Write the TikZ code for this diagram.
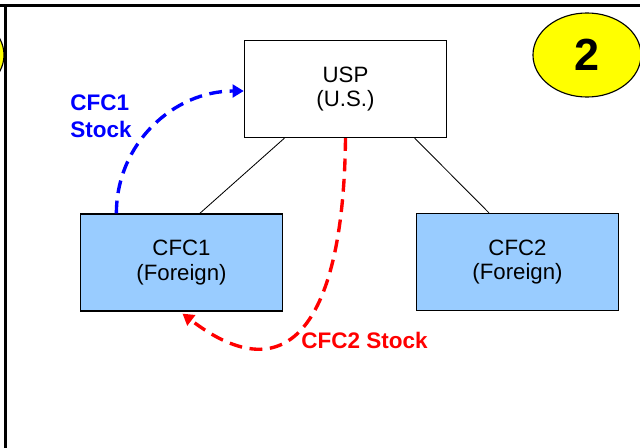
\documentclass[tikz,border=0pt]{standalone}
\usepackage{fontspec}
\setmainfont{Liberation Sans}
\usetikzlibrary{arrows.meta,calc,shapes.geometric}
\definecolor{BoxBlue}{HTML}{99CCFF}
\definecolor{BadgeYellow}{HTML}{FFFF00}
\definecolor{StockBlue}{HTML}{0000FF}
\definecolor{StockRed}{HTML}{FF0000}

\begin{document}
\begin{tikzpicture}[x=0.025cm,y=-0.025cm,
    entity/.style={draw,line width=1pt,minimum width=5.05cm,minimum height=2.42cm,
      inner sep=0pt,align=center,font=\fontsize{15.8}{17.5}\selectfont},
    cfc/.style={entity,fill=BoxBlue},
    badge/.style={draw,ellipse,fill=BadgeYellow,line width=0.8pt,minimum width=2.7cm,
      minimum height=2.1cm,inner sep=0pt,font=\bfseries\fontsize{32}{32}\selectfont},
    stocklabel/.style={anchor=west,inner sep=0pt,align=left,
      font=\bfseries\fontsize{16}{19.5}\selectfont},
    stockflow/.style={line width=2.4pt,dash pattern=on 0.32cm off 0.19cm,
      -{Triangle[length=0.28cm,width=0.32cm]}},
    owns/.style={line width=0.6pt}]
  \useasboundingbox (0,0) rectangle (640,448);
  \clip (0,0) rectangle (640,448);
  \node[badge] (one) at (-50,55) {};
  \node[badge] (two) at (587,55) {2};
  \draw[line width=2.1pt] (0,5.3) -- (640,5.3);
  \draw[line width=2.1pt] (5.5,5.3) -- (5.5,448);
  \node[entity,fill=white] (usp) at (345.5,89) {USP\\(U.S.)};
  \node[cfc] (cfc1) at (181.5,262.5) {CFC1\\(Foreign)};
  \node[cfc] (cfc2) at (517.5,262) {CFC2\\(Foreign)};
  \draw[owns] ($(usp.south west)!0.2!(usp.south east)$) -- ($(cfc1.north west)!0.59!(cfc1.north east)$);
  \draw[owns] ($(usp.south west)!0.84!(usp.south east)$) -- ($(cfc2.north west)!0.36!(cfc2.north east)$);
  \draw[stockflow,StockBlue] ($(cfc1.north west)!0.18!(cfc1.north east)$)
    .. controls +(0,-70) and +(-70,0) .. ($(usp.west)+(0,2)$);
  \draw[stockflow,StockRed] (usp.south)
    .. controls +(-2,183) and +(107,82) .. ($(cfc1.south)+(1,2)$);
  \node[stocklabel,StockBlue] (cfc1stock) at (70,116.5) {CFC1\\Stock};
  \node[stocklabel,StockRed] (cfc2stock) at (301,340) {CFC2 Stock};
\end{tikzpicture}
\end{document}
